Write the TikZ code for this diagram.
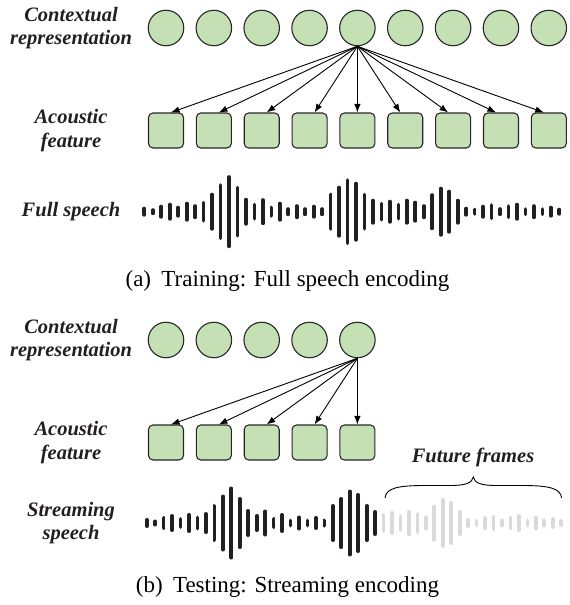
\documentclass[tikz,border=0pt]{standalone}
\usepackage{fontspec}
\setmainfont{Liberation Serif}
\usetikzlibrary{arrows.meta}
\definecolor{cfill}{HTML}{C5E0B4}
\definecolor{cdraw}{HTML}{262626}
\definecolor{wdark}{HTML}{231F20}
\definecolor{wgray}{HTML}{DADADA}
\tikzset{
  ctx/.style={circle, draw=cdraw, fill=cfill, line width=1.1pt, minimum size=35.5pt, inner sep=0pt},
  feat/.style={rectangle, rounded corners=4.5pt, draw=cdraw, fill=cfill, line width=1.1pt, minimum size=35pt, inner sep=0pt},
  lbl/.style={font=\fontsize{20.5}{23.5}\selectfont\bfseries\itshape, align=center, text=wdark, inner sep=0pt},
  captxt/.style={font=\fontsize{23}{27}\selectfont, anchor=base, inner sep=0pt},
  arr/.style={-{Latex[length=8.5pt,width=6.5pt]}, line width=0.9pt, draw=black},
  bar/.style={line width=3.7pt, line cap=round},
  bracepath/.style={line width=0.9pt, draw=black}
}
\def\wave{10,7,14,18,12,20,15,22,38,57,73,52,28,18,27,12,20,9,15,9,14,9,38,52,67,60,38,26,20,24,18,26,22,15,37,50,44,26,10,8,14,17,9,15,18,9,15,9,12,8}
\begin{document}
\begin{tikzpicture}[x=1pt,y=-1pt]
\useasboundingbox (0,0) rectangle (570,605);
% ---------- (a) ----------
\foreach \i in {1,...,9}{
  \node[ctx] (a\i) at (166+\i*47.85-47.85, 28) {};
  \node[feat] (fa\i) at (166+\i*47.85-47.85, 130.5) {};
}
\foreach \i in {1,...,9}{
  \ifnum\i<5 \def\off{5}\else\ifnum\i>5 \def\off{-5}\else\def\off{0}\fi\fi
  \draw[arr] (a5.south) -- ([xshift=\off pt]fa\i.north);
}
\node[lbl] (la1) at (71,28) {Contextual\\representation};
\node[lbl] (la2) at (71,130.5) {Acoustic\\feature};
\node[lbl] (la3) at (71,211.7) {Full speech};
\foreach \h [count=\i from 0] in \wave {
  \draw[bar,wdark] (144.3+\i*8.47, 211.7-\h/2+1.85) -- (144.3+\i*8.47, 211.7+\h/2-1.85);
}
\node[captxt] (capa) at (287.5,286) {(a)\hspace{0.45em}Training: Full speech encoding};
% ---------- (b) ----------
\foreach \i in {1,...,5}{
  \node[ctx] (b\i) at (166+\i*47.85-47.85, 340) {};
  \node[feat] (fb\i) at (166+\i*47.85-47.85, 442.5) {};
}
\foreach \i in {1,...,5}{
  \ifnum\i<5 \def\off{5}\else\def\off{0}\fi
  \draw[arr] (b5.south) -- ([xshift=\off pt]fb\i.north);
}
\node[lbl] (lb1) at (71,340) {Contextual\\representation};
\node[lbl] (lb2) at (71,442.5) {Acoustic\\feature};
\node[lbl] (lb3) at (71,523) {Streaming\\speech};
\foreach \h [count=\i from 0] in \wave {
  \ifnum\i<28 \def\wc{wdark}\else\def\wc{wgray}\fi
  \draw[bar,\wc] (146.7+\i*8.46, 523-\h/2+1.85) -- (146.7+\i*8.46, 523+\h/2-1.85);
}
\coordinate (brl) at (385,498);
\coordinate (brr) at (561.6,498);
\coordinate (brt) at (473.3,477);
\draw[bracepath] (brl) .. controls (386,488) and (398,485.5) .. (425,485.5) -- (450,485.5)
  .. controls (466,485.5) and (472,483) .. (brt)
  .. controls (474.6,483) and (480.6,485.5) .. (496.6,485.5) -- (521.6,485.5)
  .. controls (548.6,485.5) and (560.6,488) .. (brr);
\node[lbl, anchor=base] (ff) at (473,462) {Future frames};
\node[captxt] (capb) at (287.5,592.5) {(b)\hspace{0.45em}Testing: Streaming encoding};
\end{tikzpicture}
\end{document}
